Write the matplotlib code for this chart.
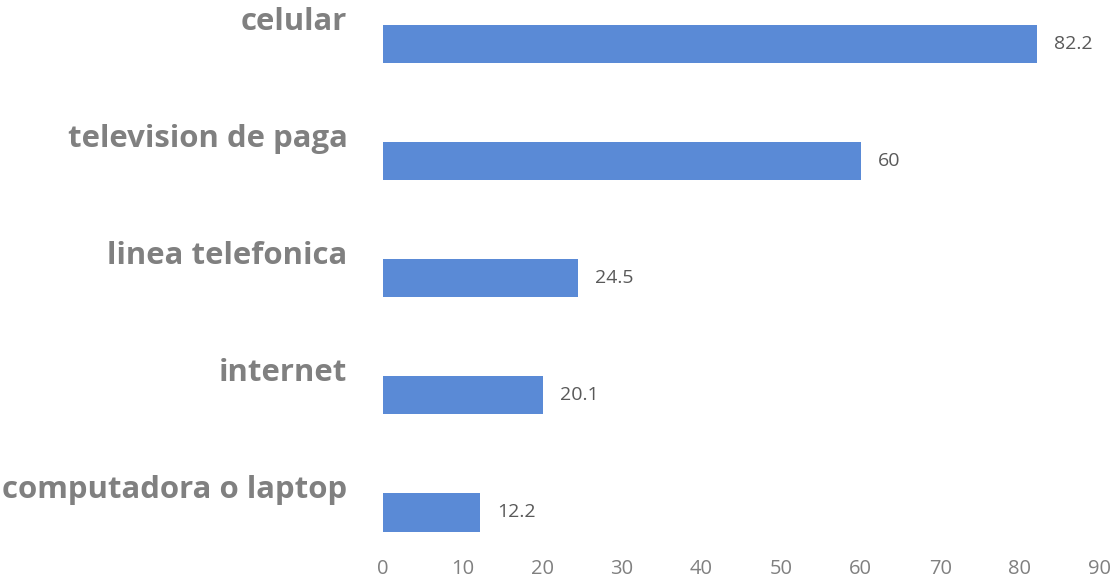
import matplotlib.pyplot as plt

# datos
categorias = ["celular", "television de paga", "linea telefonica", "internet", "computadora o laptop"]
valores = [82.2, 60, 24.5, 20.1, 12.2]
etiquetas = ["82.2", "60", "24.5", "20.1", "12.2"]
xticks = [0, 10, 20, 30, 40, 50, 60, 70, 80, 90]

plt.rcParams['font.family'] = ['Open Sans', 'DejaVu Sans']

fig = plt.figure(figsize=(11.14, 5.81), dpi=100)
ax = fig.add_axes([0.344, 0.062, 0.643, 0.938])

pos = list(range(len(categorias)))
ax.barh(pos, valores, height=0.33, color="#5a8ad6")

ax.set_xlim(0, 90)
ax.set_ylim(4.28, -0.376)

# etiquetas de categoria (un poco arriba de cada barra)
for i, c in enumerate(categorias):
    ax.text(-4.5, i - 0.19, c, ha="right", va="center", fontsize=22.4,
            fontweight="bold", color="#808080", clip_on=False)

# valores al final de cada barra
for i, (v, t) in enumerate(zip(valores, etiquetas)):
    ax.annotate(t, (v, i), xytext=(12, 0), textcoords="offset points",
                ha="left", va="center", fontsize=14, color="#595959")

ax.set_yticks([])
ax.set_xticks(xticks)
ax.set_xticklabels([str(x) for x in xticks])
ax.tick_params(axis="x", length=0, pad=10, labelsize=14.5, labelcolor="#808080")
for s in ax.spines.values():
    s.set_visible(False)

fig.savefig("out.png", dpi=100)
